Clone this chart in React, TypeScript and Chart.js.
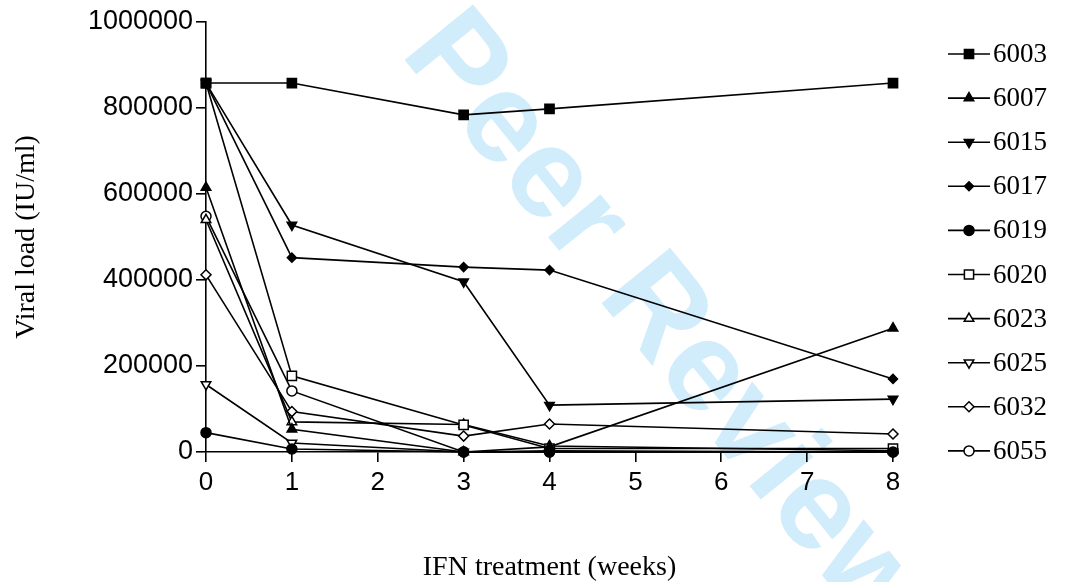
import React, { useEffect, useRef } from 'react';
import { Chart, registerables } from 'chart.js';
import { drawPoint } from 'chart.js/helpers';

Chart.register(...registerables);

// ---- data ----
const weeks = [0, 1, 3, 4, 8];
const patientIds = ['6003', '6007', '6015', '6017', '6019', '6020', '6023', '6025', '6032', '6055'];
const v6003 = [858000, 858000, 784000, 798000, 858000];
const v6007 = [615000, 53000, 0, 12000, 288000];
const v6015 = [858000, 528000, 396000, 109000, 123000];
const v6017 = [858000, 452000, 430000, 423000, 170000];
const v6019 = [45000, 7000, 0, 0, 0];
const v6020 = [858000, 177000, 63000, 8000, 8000];
const v6023 = [540000, 70000, 64000, 14000, 3000];
const v6025 = [157000, 21000, 0, 3000, 0];
const v6032 = [412000, 94000, 37000, 65000, 42000];
const v6055 = [548000, 142000, 0, 0, 0];
const seriesValues = [v6003, v6007, v6015, v6017, v6019, v6020, v6023, v6025, v6032, v6055];
const xTicks = [0, 1, 2, 3, 4, 5, 6, 7, 8];
const yTicks = [0, 200000, 400000, 600000, 800000, 1000000];
const xTitle = 'IFN treatment (weeks)';
const yTitle = 'Viral load (IU/ml)';
const watermark = 'Peer Review';

// ---- styles ----
const markers = [
  { pointStyle: 'rect', rotation: 0, filled: true, radius: 6.5 },
  { pointStyle: 'triangle', rotation: 0, filled: true, radius: 5.5 },
  { pointStyle: 'triangle', rotation: 180, filled: true, radius: 5.5 },
  { pointStyle: 'rectRot', rotation: 0, filled: true, radius: 4.5 },
  { pointStyle: 'circle', rotation: 0, filled: true, radius: 5 },
  { pointStyle: 'rect', rotation: 0, filled: false, radius: 6.5 },
  { pointStyle: 'triangle', rotation: 0, filled: false, radius: 5.5 },
  { pointStyle: 'triangle', rotation: 180, filled: false, radius: 5.5 },
  { pointStyle: 'rectRot', rotation: 0, filled: false, radius: 5 },
  { pointStyle: 'circle', rotation: 0, filled: false, radius: 5 },
];

const SANS = '"Liberation Sans", Arial, sans-serif';
const SERIF = '"Liberation Serif", "Times New Roman", serif';

const watermarkPlugin = {
  id: 'watermark',
  beforeDraw(chart: any) {
    const ctx = chart.ctx;
    ctx.save();
    ctx.translate(664, 324);
    ctx.rotate((51 * Math.PI) / 180);
    ctx.font = `bold 128px ${SANS}`;
    ctx.fillStyle = '#d1edfb';
    ctx.textAlign = 'center';
    ctx.textBaseline = 'middle';
    ctx.fillText(watermark, 0, 0);
    ctx.restore();
  },
};

const legendPlugin = {
  id: 'sideLegend',
  afterDraw(chart: any) {
    const ctx = chart.ctx;
    const area = chart.chartArea;
    const x0 = area.right + 55;
    const x1 = x0 + 42;
    chart.data.datasets.forEach((ds: any, i: number) => {
      const y = 54 + 44.1 * i;
      ctx.save();
      ctx.strokeStyle = '#000';
      ctx.lineWidth = 1.6;
      ctx.beginPath();
      ctx.moveTo(x0, y);
      ctx.lineTo(x1, y);
      ctx.stroke();
      ctx.fillStyle = ds.pointBackgroundColor;
      ctx.strokeStyle = '#000';
      ctx.lineWidth = 1.5;
      drawPoint(ctx, { pointStyle: ds.pointStyle, rotation: ds.pointRotation, radius: ds.pointRadius, borderWidth: 1.5 }, (x0 + x1) / 2, y);
      ctx.fillStyle = '#000';
      ctx.font = `27px ${SERIF}`;
      ctx.textAlign = 'left';
      ctx.textBaseline = 'middle';
      ctx.fillText(ds.label, x1 + 3, y + 1);
      ctx.restore();
    });
  },
};

export default function App() {
  const ref = useRef<HTMLCanvasElement | null>(null);
  useEffect(() => {
    if (!ref.current) return;
    const datasets = seriesValues.map((vals, i) => ({
      label: patientIds[i],
      data: weeks.map((w, j) => ({ x: w, y: vals[j] })),
      borderColor: '#000',
      borderWidth: 1.6,
      tension: 0,
      fill: false,
      clip: false as any,
      pointStyle: markers[i].pointStyle,
      pointRotation: markers[i].rotation,
      pointRadius: markers[i].radius,
      pointBackgroundColor: markers[i].filled ? '#000' : '#fff',
      pointBorderColor: '#000',
      pointBorderWidth: 1.5,
    }));
    const chart = new Chart(ref.current, {
      type: 'line',
      data: { datasets },
      plugins: [watermarkPlugin, legendPlugin],
      options: {
        animation: false,
        responsive: true,
        maintainAspectRatio: false,
        events: [],
        layout: { padding: { top: 22, right: 178, bottom: 0, left: 0 } },
        plugins: { legend: { display: false }, tooltip: { enabled: false } },
        scales: {
          x: {
            type: 'linear',
            min: 0,
            max: 8,
            afterFit: (s: any) => { s.height = 130; },
            afterBuildTicks: (s: any) => { s.ticks = xTicks.map((v) => ({ value: v })); },
            border: { display: true, color: '#000', width: 1.6 },
            grid: { drawOnChartArea: false, drawTicks: true, tickLength: 10, color: '#000', lineWidth: 1.6 },
            ticks: { color: '#000', padding: 5, font: { family: SANS, size: 26 }, callback: (v: any) => String(v), maxRotation: 0, autoSkip: false },
            title: { display: true, text: xTitle, color: '#000', font: { family: SERIF, size: 28, lineHeight: 1 }, padding: { top: 0, bottom: 0 } },
          },
          y: {
            type: 'linear',
            min: 0,
            max: 1000000,
            afterFit: (s: any) => { s.width = 206; },
            afterBuildTicks: (s: any) => { s.ticks = yTicks.map((v) => ({ value: v })); },
            border: { display: true, color: '#000', width: 1.6 },
            grid: { drawOnChartArea: false, drawTicks: true, tickLength: 10, color: '#000', lineWidth: 1.6 },
            ticks: { color: '#000', padding: 3, font: { family: SANS, size: 27 }, callback: (v: any) => String(v), autoSkip: false },
            title: { display: true, text: yTitle, color: '#000', font: { family: SERIF, size: 28, lineHeight: 1 }, padding: { top: 13, bottom: 0 } },
          },
        },
      },
    });
    return () => chart.destroy();
  }, []);
  return (
    <div style={{ position: 'absolute', left: 0, top: 0, width: 1071, height: 582, background: '#fff' }}>
      <canvas ref={ref} />
    </div>
  );
}
